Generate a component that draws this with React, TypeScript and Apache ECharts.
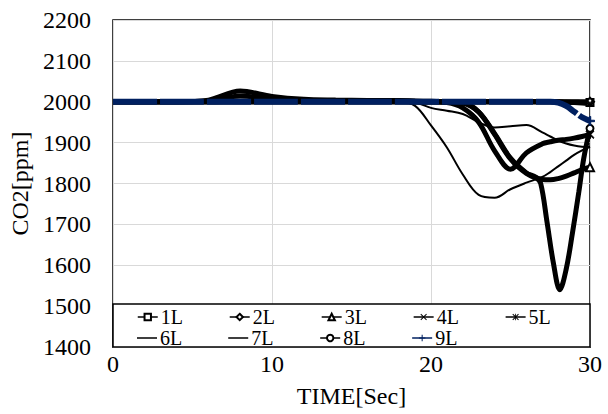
import React, { useEffect, useRef } from 'react';
import * as echarts from 'echarts';

// time axis (seconds)
const time = [0, 2, 4, 6, 8, 10, 12, 14, 16, 18, 19, 20, 21, 22, 23, 24, 25, 26, 27, 27.5, 28, 28.5, 29, 29.5, 30];
const time8L = [0, 4, 8, 12, 16, 20, 21, 22, 23, 24, 25, 26, 26.6, 26.9, 27.3, 27.7, 28.1, 28.5, 28.9, 29.3, 29.6, 30];

// CO2 [ppm]
const co2_1L = [2000, 2000, 2000, 2000, 2001, 2001, 2002, 2002, 2003, 2003, 2002, 2001, 2000, 2000, 2000, 2000, 2000, 2000, 2000, 2000, 2000, 1999, 1999, 1998, 1998];
const co2_2L = [2000, 2000, 2000, 2004, 2026, 2013, 2006, 2004, 2003, 2002, 2001, 2000, 2000, 2000, 2000, 2000, 2000, 2000, 2000, 2000, 2000, 2000, 2000, 2000, 2000];
const co2_3L = [2000, 2000, 2000, 2000, 2000, 2000, 2000, 2000, 2000, 2000, 2000, 2000, 2000, 1998, 1975, 1920, 1860, 1825, 1810, 1809, 1812, 1818, 1826, 1834, 1840];
const co2_4L = [2000, 2000, 2000, 2002, 2014, 2006, 2003, 2002, 2002, 2001, 2000, 2000, 2000, 2000, 2000, 2000, 2000, 2000, 2000, 2000, 1999, 1999, 1998, 1997, 1996];
const co2_5L = [2000, 2000, 2000, 2000, 2000, 2000, 2000, 2000, 2000, 2000, 2000, 2000, 1998, 1985, 1950, 1880, 1835, 1875, 1897, 1902, 1906, 1908, 1911, 1915, 1920];
const co2_6L = [2000, 2000, 2000, 2000, 2000, 2000, 2000, 2000, 2000, 2000, 1990, 1942, 1888, 1822, 1772, 1765, 1786, 1802, 1816, 1828, 1842, 1856, 1870, 1881, 1890];
const co2_7L = [2000, 2000, 2000, 2000, 2000, 2000, 2000, 2000, 2000, 2000, 1998, 1985, 1978, 1970, 1950, 1937, 1940, 1943, 1925, 1915, 1905, 1898, 1893, 1890, 1889];
const co2_8L = [2000, 2000, 2000, 2000, 2000, 2000, 2000, 1997, 1975, 1922, 1862, 1826, 1815, 1800, 1705, 1605, 1540, 1590, 1680, 1780, 1860, 1935];
const co2_9L = [2000, 2000, 2000, 2000, 2000, 2000, 2000, 2000, 2000, 2000, 2000, 2000, 2000, 2000, 2000, 2000, 2000, 2000, 2000, 2000, 1998, 1990, 1976, 1962, 1953];

const legendRow1 = ['1L', '2L', '3L', '4L', '5L'];
const legendRow2 = ['6L', '7L', '8L', '9L'];

const FONT = '"Liberation Serif", "Times New Roman", serif';
const NAVY = '#002060';

const xPath = 'path://M0,1L1,0L5,4L9,0L10,1L6,5L10,9L9,10L5,6L1,10L0,9L4,5Z';
const starPath = 'path://M0,1L1,0L5,4L9,0L10,1L6,5L10,9L9,10L5,6L1,10L0,9L4,5ZM4.4,0h1.2v10h-1.2z';
const plusPath = 'path://M4.2,0h1.6v10h-1.6zM0,4.2h10v1.6h-10z';
const barPath = 'path://M0,0h0.1v0.1h-0.1zM0,3.25h20v1.5h-20zM0,7.9h0.1v0.1h-0.1z';

export default function App() {
  const ref = useRef<HTMLDivElement>(null);
  useEffect(() => {
    document.body.style.margin = '0';
    const chart = echarts.init(ref.current!, null, { renderer: 'svg' });
    const GL = 113, GR = 18, GT = 20, GB = 67;
    const W = 608, H = 414;

    const mk = (name: string, xs: number[], ys: number[], o: any) => {
      const last = ys.length - 1;
      const data = ys.map((y, i) =>
        i === last && o.symbol !== 'none'
          ? { value: [xs[i], y], symbolSize: o.size }
          : [xs[i], y]
      );
      return {
        name,
        type: 'line',
        data,
        smooth: 0.35,
        symbol: o.symbol,
        symbolSize: 0,
        showSymbol: o.symbol !== 'none',
        z: o.z ?? 2,
        lineStyle: { color: o.color ?? '#000', width: o.width, type: o.type ?? 'solid' },
        itemStyle: { color: o.color ?? '#000', borderColor: o.color ?? '#000' },
        emphasis: { disabled: true },
      };
    };

    const series = [
      mk('6L', time, co2_6L, { symbol: 'none', width: 2 }),
      mk('7L', time, co2_7L, { symbol: 'none', width: 2 }),
      mk('1L', time, co2_1L, { symbol: 'emptyRect', size: 7, width: 5 }),
      mk('2L', time, co2_2L, { symbol: 'emptyDiamond', size: 8, width: 5 }),
      mk('4L', time, co2_4L, { symbol: xPath, size: 7, width: 5 }),
      mk('3L', time, co2_3L, { symbol: 'emptyTriangle', size: 8, width: 5 }),
      mk('5L', time, co2_5L, { symbol: starPath, size: 8, width: 5 }),
      mk('8L', time8L, co2_8L, { symbol: 'emptyCircle', size: 7, width: 5 }),
      mk('9L', time, co2_9L, { symbol: plusPath, size: 9, width: 6, color: NAVY, type: [44, 3], z: 3 }),
    ];

    const legendCommon = {
      orient: 'horizontal',
      left: 137,
      padding: 0,
      itemGap: 46,
      itemWidth: 20,
      itemHeight: 8,
      z: 20,
      selectedMode: false,
      lineStyle: { width: 1.5 },
      textStyle: { fontFamily: FONT, fontSize: 20, color: '#000', padding: [0, 0, 0, -2] },
    };
    const legendItem = (n: string) => (n === '6L' || n === '7L' ? { name: n, icon: barPath } : { name: n });
    const fmt = (v: number) => String(v);

    const option: any = {
      animation: false,
      backgroundColor: '#fff',
      grid: {
        left: GL, right: GR, top: GT, bottom: GB,
        show: true, borderColor: '#000', borderWidth: 1.5, backgroundColor: 'transparent',
      },
      xAxis: {
        type: 'value',
        min: 0, max: 30, interval: 10,
        name: 'TIME[Sec]',
        nameLocation: 'middle',
        nameGap: 37,
        nameTextStyle: { fontFamily: FONT, fontSize: 24, color: '#000' },
        axisLine: { show: false },
        axisTick: { show: false },
        axisLabel: { fontFamily: FONT, fontSize: 24, color: '#000', margin: 5, formatter: fmt },
        splitLine: { show: true, lineStyle: { color: '#d9d9d9', width: 1 } },
      },
      yAxis: {
        type: 'value',
        min: 1400, max: 2200, interval: 100,
        name: 'CO2[ppm]',
        nameLocation: 'middle',
        nameGap: 76,
        nameTextStyle: { fontFamily: FONT, fontSize: 24, color: '#000' },
        axisLine: { show: false },
        axisTick: { show: false },
        axisLabel: { fontFamily: FONT, fontSize: 24, color: '#000', margin: 22, formatter: fmt },
        splitLine: { show: true, lineStyle: { color: '#d9d9d9', width: 1 } },
      },
      legend: [
        { ...legendCommon, top: 307, data: legendRow1.map(legendItem) },
        { ...legendCommon, top: 328, data: legendRow2.map(legendItem) },
      ],
      graphic: [
        {
          type: 'rect',
          z: 10,
          shape: { x: GL, y: 304, width: W - GL - GR, height: H - GB - 304 },
          style: { fill: '#fff', stroke: '#000', lineWidth: 1.5 },
        },
      ],
      series,
    };
    chart.setOption(option);
    return () => chart.dispose();
  }, []);
  return <div ref={ref} style={{ width: 608, height: 414 }} />;
}
